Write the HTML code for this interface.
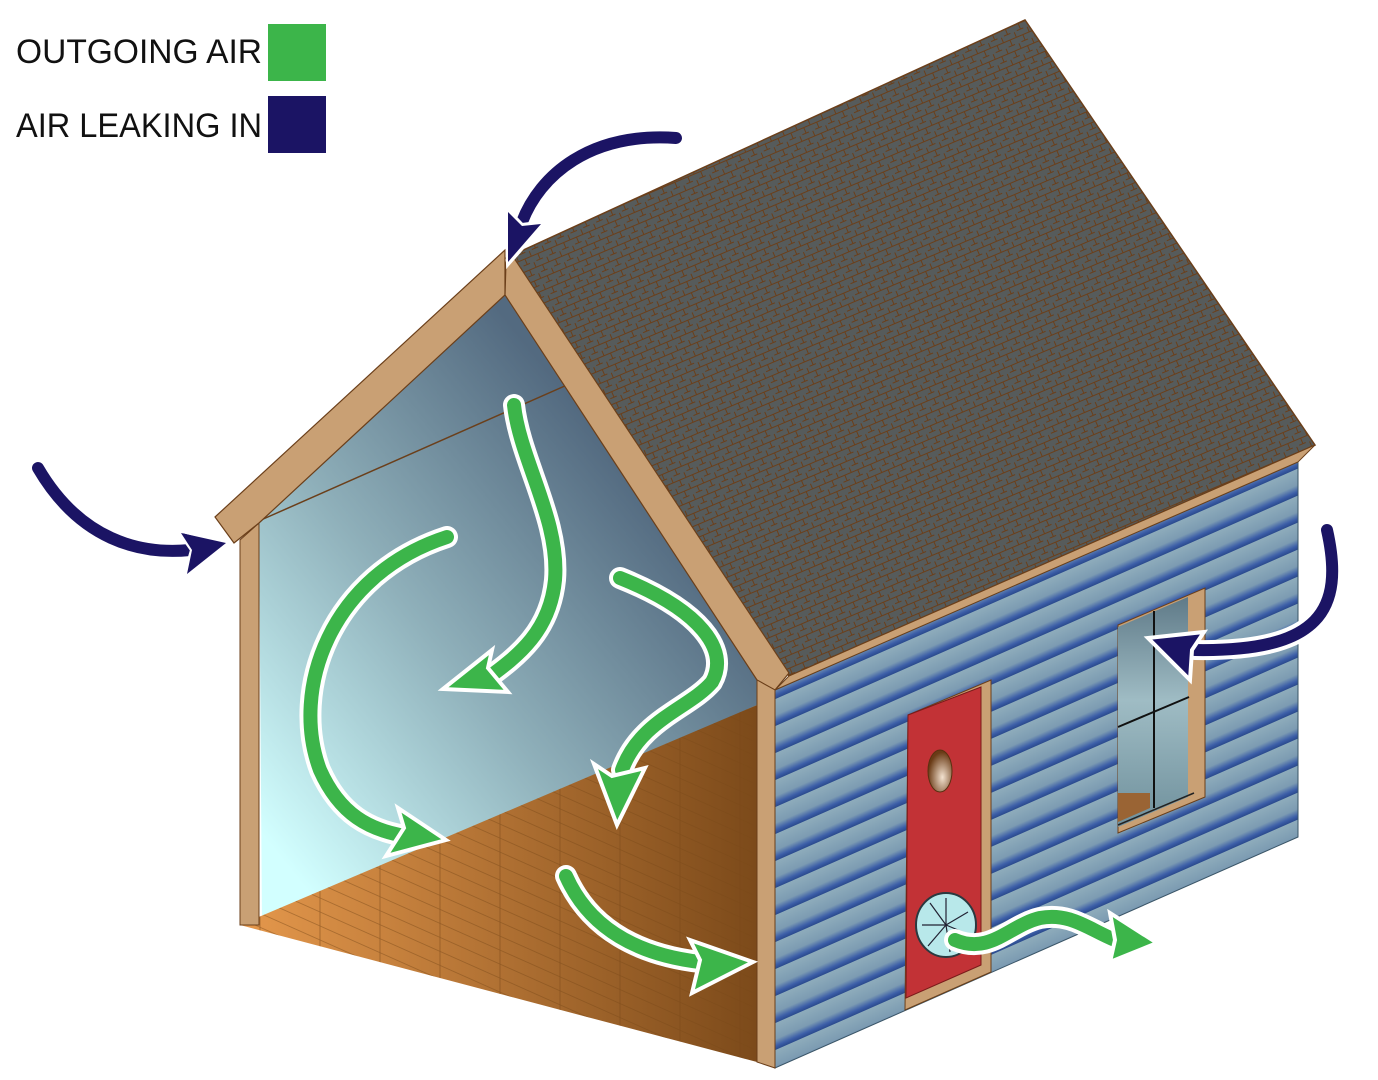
<!DOCTYPE html>
<html><head><meta charset="utf-8"><style>html,body{margin:0;padding:0;background:#fff}svg{display:block}</style></head>
<body>
<svg width="1378" height="1080" viewBox="0 0 1378 1080" xmlns="http://www.w3.org/2000/svg">
<defs>
<linearGradient id="wallg" x1="0.1" y1="0.95" x2="0.75" y2="0.3">
<stop offset="0" stop-color="#d2ffff"/><stop offset="0.5" stop-color="#8fb0ba"/><stop offset="1" stop-color="#536a80"/></linearGradient>
<linearGradient id="floorg" x1="0" y1="0" x2="1" y2="0">
<stop offset="0" stop-color="#e5984c"/><stop offset="1" stop-color="#7c4a1a"/></linearGradient>
<linearGradient id="sid" x1="0" y1="0" x2="0" y2="1">
<stop offset="0" stop-color="#8eacbb"/><stop offset="0.6" stop-color="#7c9bb2"/><stop offset="0.85" stop-color="#3c5ea8"/><stop offset="1" stop-color="#2a4a8c"/></linearGradient>
<pattern id="sidp" width="600" height="27" patternUnits="userSpaceOnUse" patternTransform="translate(0,690) skewY(-23.8)">
<rect width="600" height="27" fill="url(#sid)"/></pattern>
<pattern id="shing" width="14" height="12" patternUnits="userSpaceOnUse" patternTransform="rotate(-23)">
<rect width="14" height="12" fill="#565b5b"/>
<path d="M0 11.5H14M4 0V6M11 6V12M0 5.5H7" stroke="#6b3f1a" stroke-width="1" fill="none"/></pattern>
<pattern id="plank" width="60" height="14" patternUnits="userSpaceOnUse" patternTransform="skewY(24)">
<path d="M0 13.5H60M20 0V14" stroke="#7a4818" stroke-width="0.8" fill="none" opacity="0.6"/></pattern>
<linearGradient id="glass" x1="0" y1="0" x2="0" y2="1">
<stop offset="0" stop-color="#5f7a88"/><stop offset="0.45" stop-color="#9fbcc4"/><stop offset="1" stop-color="#6f909c"/></linearGradient>
<radialGradient id="knob" cx="0.6" cy="0.65" r="0.6"><stop offset="0" stop-color="#f3e2d0"/><stop offset="1" stop-color="#6a3b16"/></radialGradient>
</defs>

<!-- roof -->
<polygon points="506,258 1025,20 1315,445 789,676" fill="url(#shing)" stroke="#6b3f1a" stroke-width="1.5"/>
<!-- side wall -->
<polygon points="775,690 1298,462 1298,837 775,1068" fill="url(#sidp)" stroke="#3a5566" stroke-width="1"/>
<!-- eave strip -->
<polygon points="789,676 1315,445 1298,462 775,690" fill="#c9a074" stroke="#6b3f1a" stroke-width="1"/>
<!-- back wall interior -->
<polygon points="259,523 505,295 766,690 757,705 262,925" fill="url(#wallg)"/>
<line x1="261" y1="520" x2="567" y2="385" stroke="#6b3f1a" stroke-width="1.5"/>
<!-- floor -->
<polygon points="240,925 757,705 757,1062" fill="url(#floorg)"/>
<polygon points="240,925 757,705 757,1062" fill="url(#plank)"/>
<!-- left post -->
<polygon points="240,540 259,523 259,925 240,925" fill="#c9a074" stroke="#6b3f1a" stroke-width="1"/>
<!-- left trim -->
<polygon points="505,250 505,295 259,523 234,543 215,517" fill="#c9a074" stroke="#6b3f1a" stroke-width="1.2"/>
<!-- right trim -->
<polygon points="506,262 514,258 789,673 775,690 757,680 505,295" fill="#c9a074" stroke="#6b3f1a" stroke-width="1.2"/>
<!-- front post -->
<polygon points="757,680 775,690 775,1068 757,1062" fill="#c9a074" stroke="#6b3f1a" stroke-width="1"/>

<!-- door -->
<polygon points="908,715 991,680 991,972 905,1010" fill="#c9a074" stroke="#6b3f1a" stroke-width="1"/>
<polygon points="908,715 981,687 981,965 906,998" fill="#c23236" stroke="#7a1a1a" stroke-width="1"/>
<ellipse cx="940" cy="771" rx="12" ry="21" fill="url(#knob)" stroke="#5a3010"/>
<ellipse cx="946" cy="925" rx="30" ry="32" fill="#b8e8ea" stroke="#2a3a40" stroke-width="2"/>
<g stroke="#223" stroke-width="1.2" fill="none">
<path d="M946 925 L946 898 M946 925 L968 912 M946 925 L970 935 M946 925 L950 952 M946 925 L928 946 M946 925 L922 925 M946 925 L930 903"/>
</g>
<!-- window -->
<polygon points="1118,625 1205,588 1205,797 1118,833" fill="#c9a074" stroke="#6b3f1a" stroke-width="1"/>
<polygon points="1118,627 1188,597 1188,797 1118,827" fill="url(#glass)"/>
<polygon points="1118,793 1150,793 1150,808 1118,822" fill="#9a6434"/>
<line x1="1154" y1="611" x2="1154" y2="808" stroke="#111" stroke-width="2"/>
<line x1="1118" y1="727" x2="1189" y2="697" stroke="#111" stroke-width="2"/>
<line x1="1118" y1="825" x2="1194" y2="793" stroke="#222" stroke-width="1.5"/>

<!-- green arrows -->
<g fill="none" stroke-linecap="round">
<g stroke="#fff" stroke-width="22">
<path d="M514 405 C520 460 560 520 555 580 C550 630 520 655 485 680"/>
<path d="M447 537 C330 575 290 690 320 770 C340 815 370 830 405 836"/>
<path d="M620 578 C700 610 730 650 712 682 C690 708 640 720 622 770"/>
<path d="M566 876 C590 930 640 955 700 962"/>
<path d="M955 940 C990 955 1010 925 1040 918 C1070 912 1090 930 1115 940"/>
</g>
<g stroke="#3cb54a" stroke-width="14">
<path d="M514 405 C520 460 560 520 555 580 C550 630 520 655 485 680"/>
<path d="M447 537 C330 575 290 690 320 770 C340 815 370 830 405 836"/>
<path d="M620 578 C700 610 730 650 712 682 C690 708 640 720 622 770"/>
<path d="M566 876 C590 930 640 955 700 962"/>
<path d="M955 940 C990 955 1010 925 1040 918 C1070 912 1090 930 1115 940"/>
</g>
</g>
<g fill="#3cb54a" stroke="#fff" stroke-width="4" stroke-linejoin="miter">
<polygon points="443,689 492,650 488,668 508,692"/>
<polygon points="446,840 398,808 404,828 386,856"/>
<polygon points="617,825 594,764 612,776 645,768"/>
<polygon points="753,962 690,940 700,960 692,993"/>
<polygon points="1157,943 1110,913 1115,940 1110,962"/>
</g>

<!-- navy arrows -->
<g fill="none" stroke-linecap="round">
<g stroke="#fff" stroke-width="20">
<path d="M676 138 C590 132 540 175 522 222"/>
<path d="M38 468 C80 540 140 555 190 550"/>
<path d="M1327 530 C1345 610 1320 652 1195 650"/>
</g>
<g stroke="#1b1464" stroke-width="12">
<path d="M676 138 C590 132 540 175 522 222"/>
<path d="M38 468 C80 540 140 555 190 550"/>
<path d="M1327 530 C1345 610 1320 652 1195 650"/>
</g>
</g>
<g fill="#1b1464" stroke="#fff" stroke-width="4">
<polygon points="508,264 506,208 522,225 545,222"/>
<polygon points="228,543 178,530 192,550 184,578"/>
<polygon points="1148,638 1204,632 1192,650 1190,680"/>
</g>
<g fill="#1b1464">
<polygon points="508,262 508,212 522,226 541,224"/>
<polygon points="226,543 181,533 192,550 187,574"/>
</g>

<!-- legend -->
<g font-family="Liberation Sans, sans-serif" font-size="34" fill="#111">
<text x="16" y="63" textLength="246" lengthAdjust="spacingAndGlyphs">OUTGOING AIR</text>
<text x="16" y="137" textLength="246" lengthAdjust="spacingAndGlyphs">AIR LEAKING IN</text>
</g>
<rect x="268" y="24" width="58" height="57" fill="#3cb54a"/>
<rect x="268" y="96" width="58" height="57" fill="#1b1464"/>
</svg>
</body></html>
